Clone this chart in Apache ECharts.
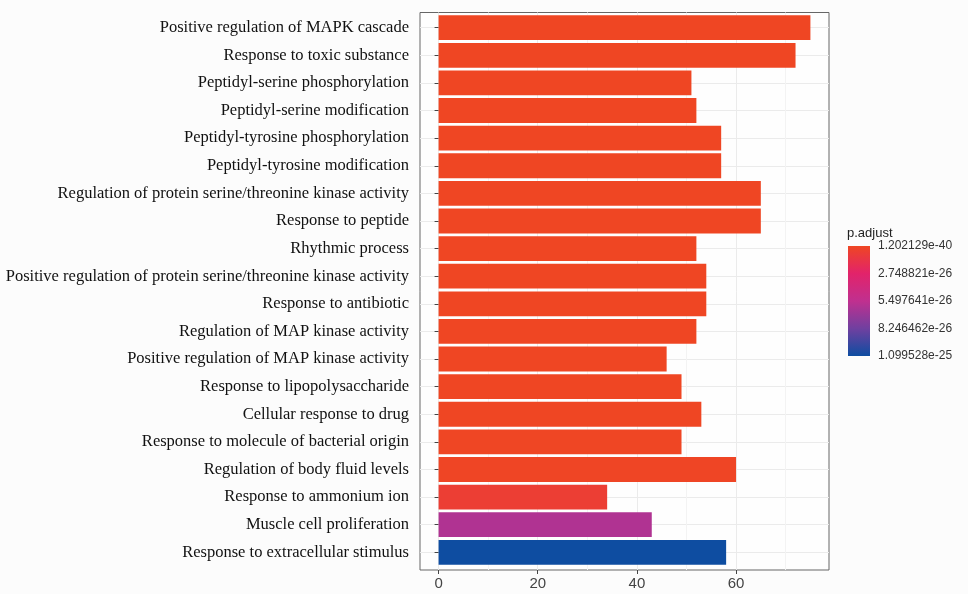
<!DOCTYPE html>
<html>
<head>
<meta charset="utf-8">
<script src="https://cdn.jsdelivr.net/npm/echarts@6/dist/echarts.min.js"></script>
<style>
html,body{margin:0;padding:0;background:#fcfcfc;}
#chart{width:968px;height:594px;}
</style>
</head>
<body>
<div id="chart"></div>
<script>
const terms = [
  "Positive regulation of MAPK cascade",
  "Response to toxic substance",
  "Peptidyl-serine phosphorylation",
  "Peptidyl-serine modification",
  "Peptidyl-tyrosine phosphorylation",
  "Peptidyl-tyrosine modification",
  "Regulation of protein serine/threonine kinase activity",
  "Response to peptide",
  "Rhythmic process",
  "Positive regulation of protein serine/threonine kinase activity",
  "Response to antibiotic",
  "Regulation of MAP kinase activity",
  "Positive regulation of MAP kinase activity",
  "Response to lipopolysaccharide",
  "Cellular response to drug",
  "Response to molecule of bacterial origin",
  "Regulation of body fluid levels",
  "Response to ammonium ion",
  "Muscle cell proliferation",
  "Response to extracellular stimulus"
];
const counts = [75, 72, 51, 52, 57, 57, 65, 65, 52, 54, 54, 52, 46, 49, 53, 49, 60, 34, 43, 58];
const padj = [1.202129e-40, 3.5e-38, 2.1e-35, 4.2e-35, 1.4e-34, 1.6e-34, 2.3e-33, 5.1e-32, 1.1e-31, 3.3e-31,
              6.8e-31, 1.9e-30, 4.4e-30, 8.2e-29, 1.6e-28, 3.9e-28, 7.5e-28, 6.6e-27, 6.05e-26, 1.099528e-25];
const xTicks = [0, 20, 40, 60];
const pTicks = [1.202129e-40, 2.748821e-26, 5.497641e-26, 8.246462e-26, 1.099528e-25];
const pColors = ['#ef4623', '#e2236a', '#c0308f', '#7040a0', '#0e4da1'];

const pMin = pTicks[0], pMax = pTicks[pTicks.length - 1];
const chart = echarts.init(document.getElementById('chart'));

const gradStops = pColors.map((c, i) => ({offset: i / (pColors.length - 1), color: c}));

chart.setOption({
  backgroundColor: '#fcfcfc',
  animation: false,
  title: {
    text: 'p.adjust', left: 847, top: 227, padding: 0,
    textStyle: {fontSize: 13, fontWeight: 'normal', color: '#222', fontFamily: 'Liberation Sans'}
  },
  grid: [
    {left: 420, right: 139, top: 12.5, bottom: 24, show: true, backgroundColor: '#fefefe', borderColor: '#666', borderWidth: 1},
    {left: 420, right: 139, top: 27.7, bottom: 41.7},
    {left: 848, width: 22, top: 246, height: 110}
  ],
  xAxis: [
    {gridIndex: 0, type: 'value', min: -3.75, max: 78.75,
     axisLine: {show: false},
     axisTick: {show: true, length: 4, lineStyle: {color: '#444'}, customValues: xTicks},
     axisLabel: {customValues: xTicks, margin: 6, fontFamily: 'Liberation Sans', fontSize: 15, color: '#444'},
     splitLine: {show: true, lineStyle: {color: '#ebebeb'}},
     minorTick: {show: false, splitNumber: 2},
     minorSplitLine: {show: true, lineStyle: {color: '#f3f3f3'}}},
    {gridIndex: 1, type: 'value', min: -3.75, max: 78.75, show: false},
    {gridIndex: 2, type: 'category', data: ['p.adjust'], show: false}
  ],
  yAxis: [
    {gridIndex: 0, type: 'value', show: false, splitLine: {show: false}},
    {gridIndex: 1, type: 'category', data: terms, inverse: true, boundaryGap: false,
     axisLine: {show: false},
     axisTick: {show: true, length: 4, lineStyle: {color: '#444'}},
     axisLabel: {interval: 0, margin: 11, fontFamily: 'Liberation Serif', fontSize: 16.5, color: '#111'},
     splitLine: {show: true, lineStyle: {color: '#ebebeb'}}},
    {gridIndex: 2, type: 'value', inverse: true, min: pMin, max: pMax, position: 'right',
     axisLine: {show: false},
     axisTick: {show: true, inside: true, length: 4, lineStyle: {color: '#fff'}, customValues: pTicks},
     axisLabel: {customValues: pTicks, formatter: v => Number(v).toExponential(6), margin: 8,
                 fontFamily: 'Liberation Sans', fontSize: 12, color: '#333'},
     splitLine: {show: false}},
    {gridIndex: 2, type: 'value', inverse: true, min: pMin, max: pMax, position: 'left',
     axisLine: {show: false},
     axisTick: {show: true, inside: true, length: 4, lineStyle: {color: '#fff'}, customValues: pTicks},
     axisLabel: {show: false},
     splitLine: {show: false}}
  ],
  visualMap: {
    type: 'continuous', show: false, seriesIndex: 0, dimension: 2,
    min: pMin, max: pMax, inRange: {color: pColors}
  },
  series: [
    {type: 'bar', xAxisIndex: 1, yAxisIndex: 1, barWidth: '90%',
     data: counts.map((c, i) => [c, terms[i], padj[i]]),
     encode: {x: 0, y: 1}},
    {type: 'bar', xAxisIndex: 2, yAxisIndex: 2, barWidth: '100%', silent: true,
     data: [pMax],
     itemStyle: {color: new echarts.graphic.LinearGradient(0, 0, 0, 1, gradStops)}}
  ]
});
</script>
</body>
</html>
